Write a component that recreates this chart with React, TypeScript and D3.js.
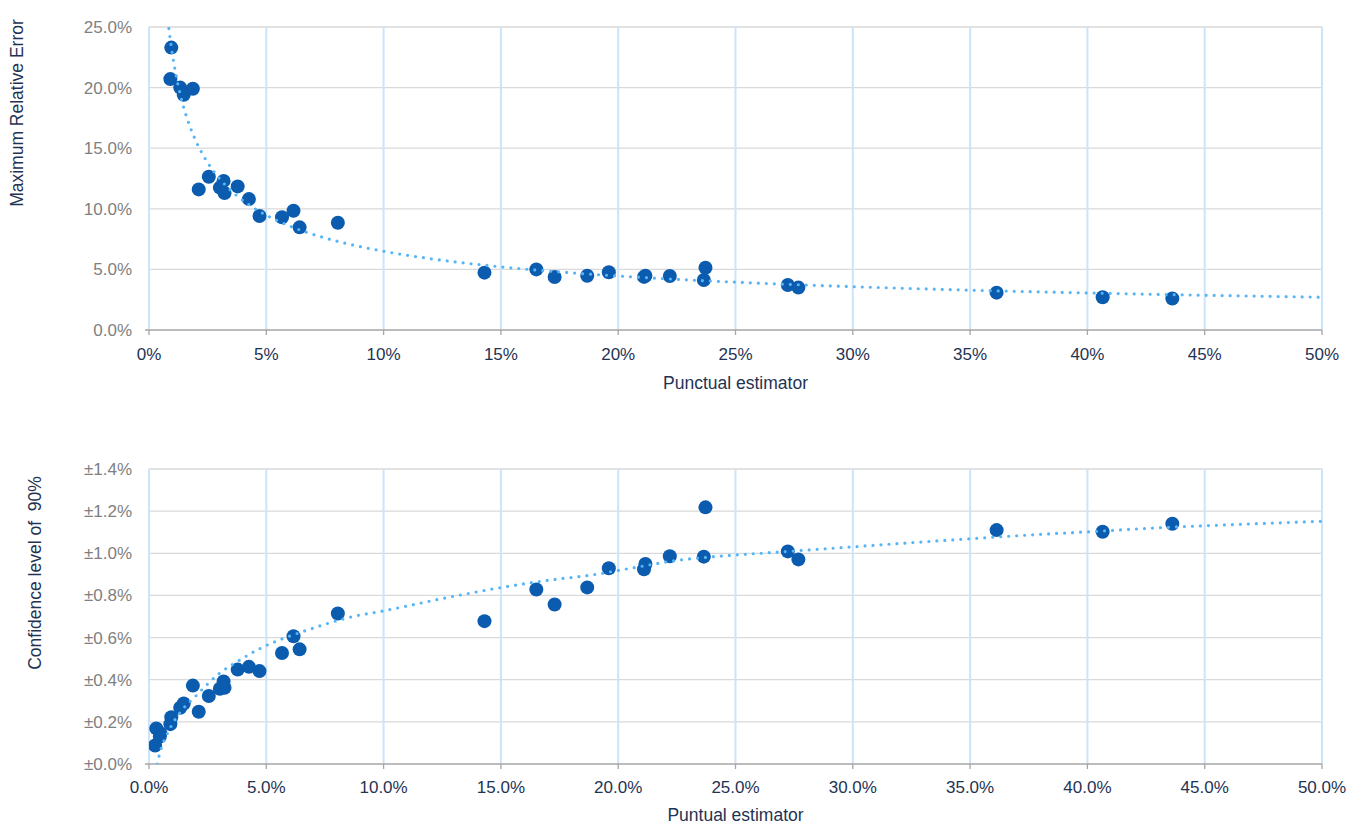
import { useEffect, useRef } from "react"
import * as d3 from "d3"

// punctual estimator (%), shared by both charts
const estimator = [
  0.26, 0.31, 0.48, 0.46, 0.91, 0.95, 1.33, 1.48, 1.87, 2.12, 2.55, 3.02, 3.18, 3.22, 3.78, 4.26, 4.71, 5.67,
  6.16, 6.42, 8.05, 14.3, 16.51, 17.29, 18.68, 19.6, 21.1, 21.16, 22.2, 23.65, 23.72, 27.23, 27.68, 36.13,
  40.65, 43.62,
]

// maximum relative error (%), null = above the 25% axis limit, not shown
const maxRelError = [
  null, null, null, null, 20.7, 23.3, 20.0, 19.4, 19.9, 11.6, 12.65, 11.75, 12.3, 11.3, 11.85, 10.8, 9.4, 9.3,
  9.84, 8.47, 8.85, 4.73, 5.0, 4.37, 4.48, 4.76, 4.38, 4.48, 4.45, 4.13, 5.14, 3.71, 3.5, 3.08, 2.7, 2.6,
]

// half width of the 90% confidence interval (%)
const confidence = [
  0.088, 0.169, 0.146, 0.13, 0.189, 0.222, 0.267, 0.287, 0.372, 0.248, 0.323, 0.357, 0.392, 0.362, 0.448, 0.461,
  0.441, 0.527, 0.606, 0.544, 0.714, 0.678, 0.828, 0.757, 0.838, 0.929, 0.924, 0.949, 0.986, 0.984, 1.218, 1.009,
  0.971, 1.11, 1.102, 1.14,
]

// dotted trendline of the confidence chart
const confTrendX = [
  0.35, 0.43, 0.9, 1.4, 1.96, 3.0, 3.88, 4.8, 5.75, 6.76, 7.76, 8.78, 9.82, 12.9, 15.03, 17.09, 18.87, 20.58,
  22.63, 24.41, 26.47, 29.67, 32.08, 35.0, 37.7, 40.04, 43.38, 46.2, 50,
]
const confTrendY = [
  0.0, 0.038, 0.17, 0.255, 0.319, 0.43, 0.494, 0.552, 0.597, 0.636, 0.672, 0.702, 0.723, 0.794, 0.838, 0.873,
  0.897, 0.93, 0.968, 0.987, 1.003, 1.028, 1.047, 1.069, 1.088, 1.102, 1.123, 1.136, 1.152,
]

const xTicks = [0, 5, 10, 15, 20, 25, 30, 35, 40, 45, 50]
const errorTicks = [0, 5, 10, 15, 20, 25]
const confTicks = [0, 0.2, 0.4, 0.6, 0.8, 1.0, 1.2, 1.4]

const FONT = "'Liberation Sans', Arial, sans-serif"
const NAVY = "#1f3353"

type Pt = { x: number; y: number }

// Excel style power trendline: ln y = ln a + b ln x
function powerFit(pts: Pt[]) {
  const lx = pts.map((p) => Math.log(p.x))
  const ly = pts.map((p) => Math.log(p.y))
  const mx = d3.mean(lx)!
  const my = d3.mean(ly)!
  const b = d3.sum(lx, (v, i) => (v - mx) * (ly[i] - my)) / d3.sum(lx, (v) => (v - mx) ** 2)
  const a = Math.exp(my - b * mx)
  return (x: number) => a * Math.pow(x, b)
}

interface ChartOpts {
  id: string
  top: number
  bottom: number
  yMax: number
  yTicks: number[]
  yFormat: (d: number) => string
  xFormat: (d: number) => string
  points: Pt[]
  trend: Pt[]
  yTitle: string
  yTitleX: number
  yTitleY: number
  xTitle: string
  xLabelY: number
  xTitleY: number
}

const LEFT = 149
const RIGHT = 1322

function drawChart(svg: d3.Selection<SVGSVGElement, unknown, null, undefined>, o: ChartOpts) {
  const x = d3.scaleLinear().domain([0, 50]).range([LEFT, RIGHT])
  const y = d3.scaleLinear().domain([0, o.yMax]).range([o.bottom, o.top])
  const g = svg.append("g")

  g.append("clipPath")
    .attr("id", o.id)
    .append("rect")
    .attr("x", LEFT)
    .attr("y", o.top)
    .attr("width", RIGHT - LEFT)
    .attr("height", o.bottom - o.top)

  // horizontal grid
  g.selectAll(".hgrid")
    .data(o.yTicks.filter((d) => d > 0))
    .enter()
    .append("line")
    .attr("x1", LEFT)
    .attr("x2", RIGHT)
    .attr("y1", (d) => y(d))
    .attr("y2", (d) => y(d))
    .attr("stroke", "#d9d9d9")
    .attr("stroke-width", 1.3)

  // vertical grid
  g.selectAll(".vgrid")
    .data(xTicks)
    .enter()
    .append("line")
    .attr("x1", (d) => x(d))
    .attr("x2", (d) => x(d))
    .attr("y1", o.top)
    .attr("y2", o.bottom)
    .attr("stroke", "#cce4fb")
    .attr("stroke-width", 2)

  // x axis
  g.append("line")
    .attr("x1", LEFT - 4)
    .attr("x2", RIGHT)
    .attr("y1", o.bottom)
    .attr("y2", o.bottom)
    .attr("stroke", "#a6a6a6")
    .attr("stroke-width", 1.3)
  g.selectAll(".xtick")
    .data(xTicks)
    .enter()
    .append("line")
    .attr("x1", (d) => x(d))
    .attr("x2", (d) => x(d))
    .attr("y1", o.bottom)
    .attr("y2", o.bottom + 5)
    .attr("stroke", "#a6a6a6")
    .attr("stroke-width", 1.3)

  g.selectAll(".xlabel")
    .data(xTicks)
    .enter()
    .append("text")
    .attr("x", (d) => x(d))
    .attr("y", o.xLabelY)
    .attr("text-anchor", "middle")
    .style("font-family", FONT)
    .style("font-size", "17px")
    .style("fill", NAVY)
    .text((d) => o.xFormat(d))

  g.selectAll(".ylabel")
    .data(o.yTicks)
    .enter()
    .append("text")
    .attr("x", 132)
    .attr("y", (d) => y(d) + 6)
    .attr("text-anchor", "end")
    .style("font-family", FONT)
    .style("font-size", "17px")
    .style("fill", "#808080")
    .text((d) => o.yFormat(d))

  // points
  g.selectAll(".dot")
    .data(o.points)
    .enter()
    .append("circle")
    .attr("cx", (d) => x(d.x))
    .attr("cy", (d) => y(d.y))
    .attr("r", 7)
    .attr("fill", "#0b5cae")
    .attr("clip-path", `url(#${o.id})`)

  // trendline on top of markers
  const line = d3
    .line<Pt>()
    .x((d) => x(d.x))
    .y((d) => y(d.y))
    .curve(d3.curveMonotoneX)
  g.append("path")
    .datum(o.trend)
    .attr("d", line)
    .attr("fill", "none")
    .attr("stroke", "#55b5f6")
    .attr("stroke-width", 3.2)
    .attr("stroke-linecap", "round")
    .attr("stroke-dasharray", "0 8")
    .attr("clip-path", `url(#${o.id})`)

  g.append("text")
    .attr("transform", `translate(${o.yTitleX},${o.yTitleY}) rotate(-90)`)
    .attr("text-anchor", "middle")
    .attr("xml:space", "preserve")
    .style("white-space", "pre")
    .style("font-family", FONT)
    .style("font-size", "17.5px")
    .style("fill", NAVY)
    .text(o.yTitle)

  g.append("text")
    .attr("x", (LEFT + RIGHT) / 2)
    .attr("y", o.xTitleY)
    .attr("text-anchor", "middle")
    .style("font-family", FONT)
    .style("font-size", "17.5px")
    .style("fill", NAVY)
    .text(o.xTitle)
}

export default function App() {
  const svgRef = useRef<SVGSVGElement>(null)

  useEffect(() => {
    if (!svgRef.current) return
    const svg = d3.select(svgRef.current)
    svg.selectAll("*").remove()

    const errPts: Pt[] = []
    estimator.forEach((e, i) => {
      const v = maxRelError[i]
      if (v != null) errPts.push({ x: e, y: v })
    })
    const confPts: Pt[] = estimator.map((e, i) => ({ x: e, y: confidence[i] }))

    const fit = powerFit(errPts)
    const errTrend: Pt[] = d3.range(d3.min(estimator)!, 50.001, 0.05).map((v) => ({ x: v, y: fit(v) }))
    const confTrend: Pt[] = confTrendX.map((v, i) => ({ x: v, y: confTrendY[i] }))

    drawChart(svg, {
      id: "clip-top",
      top: 27,
      bottom: 330,
      yMax: 25,
      yTicks: errorTicks,
      yFormat: (d) => `${d.toFixed(1)}%`,
      xFormat: (d) => `${d}%`,
      points: errPts,
      trend: errTrend,
      yTitle: "Maximum Relative Error",
      yTitleX: 23,
      yTitleY: 113,
      xTitle: "Punctual estimator",
      xLabelY: 360,
      xTitleY: 389,
    })

    drawChart(svg, {
      id: "clip-bottom",
      top: 469,
      bottom: 764,
      yMax: 1.4,
      yTicks: confTicks,
      yFormat: (d) => `±${d.toFixed(1)}%`,
      xFormat: (d) => `${d.toFixed(1)}%`,
      points: confPts,
      trend: confTrend,
      yTitle: "Confidence level of  90%",
      yTitleX: 41,
      yTitleY: 573,
      xTitle: "Puntual estimator",
      xLabelY: 793,
      xTitleY: 821,
    })
  }, [])

  return (
    <div style={{ position: "absolute", left: 0, top: 0 }}>
      <svg ref={svgRef} width={1361} height={824} style={{ display: "block", background: "#fff" }}></svg>
    </div>
  )
}
